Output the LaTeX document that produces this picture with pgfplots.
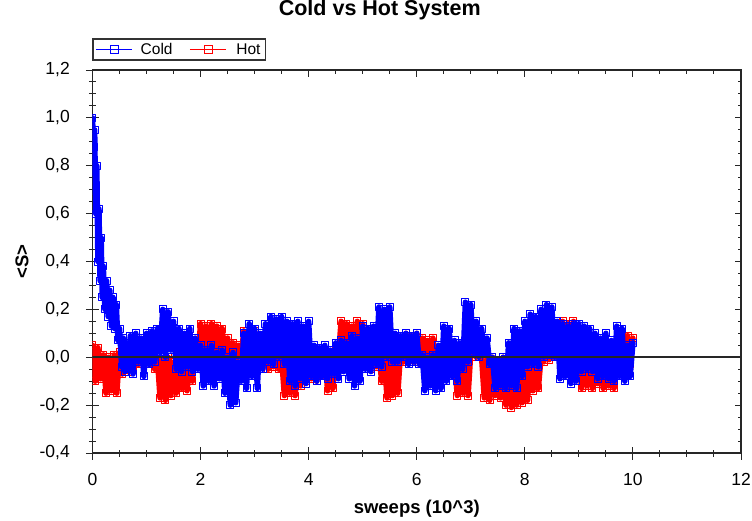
\documentclass[border=0pt]{standalone}
\usepackage{pgfplots}
\usepackage{pgfplotstable}
\pgfplotsset{compat=1.18}
\usepackage{fontspec}
\setmainfont{Liberation Sans}

\pgfplotstableread{
x y
0.00 1.00
0.02 0.88
0.04 0.95
0.06 0.60
0.08 0.80
0.10 0.40
0.12 0.62
0.14 0.32
0.16 0.50
0.18 0.25
0.20 0.38
0.23 0.20
0.26 0.32
0.29 0.17
0.32 0.28
0.35 0.13
0.38 0.25
0.41 0.12
0.44 0.22
0.47 0.07
0.50 0.12
0.54 -0.04
0.57 0.08
0.60 -0.06
0.63 0.06
0.66 -0.05
0.70 0.09
0.75 -0.07
0.80 0.10
0.85 -0.02
0.90 0.08
0.95 -0.08
1.00 0.10
1.05 -0.03
1.10 0.11
1.15 -0.02
1.20 0.12
1.25 0.02
1.30 0.20
1.35 0.00
1.40 0.19
1.45 0.03
1.50 0.15
1.55 -0.05
1.60 0.12
1.65 -0.06
1.70 0.10
1.75 -0.04
1.80 0.12
1.85 -0.06
1.90 0.08
1.95 -0.05
2.00 0.05
2.05 -0.12
2.10 0.03
2.15 -0.10
2.20 0.05
2.25 -0.12
2.30 0.02
2.35 -0.09
2.40 0.03
2.45 -0.15
2.50 0.00
2.55 -0.20
2.60 0.02
2.65 -0.19
2.70 -0.02
2.75 -0.10
2.80 0.10
2.85 -0.13
2.90 0.14
2.95 -0.08
3.00 0.12
3.05 -0.13
3.10 0.10
3.15 -0.05
3.20 0.14
3.25 -0.02
3.30 0.17
3.35 -0.03
3.40 0.16
3.45 0.00
3.50 0.17
3.55 -0.03
3.60 0.15
3.65 -0.10
3.70 0.14
3.75 -0.12
3.80 0.15
3.85 -0.09
3.90 0.13
3.95 -0.11
4.00 0.15
4.05 -0.08
4.10 0.05
4.15 -0.10
4.20 0.04
4.25 -0.08
4.30 0.05
4.35 -0.09
4.40 0.03
4.45 -0.07
4.50 0.06
4.55 -0.09
4.60 0.07
4.65 -0.06
4.70 0.06
4.75 -0.09
4.80 0.09
4.85 -0.12
4.90 0.08
4.95 -0.10
5.00 0.13
5.05 -0.05
5.10 0.12
5.15 -0.06
5.20 0.13
5.25 -0.03
5.30 0.21
5.35 -0.04
5.40 0.20
5.45 0.00
5.50 0.21
5.55 -0.02
5.60 0.10
5.65 -0.02
5.70 0.09
5.75 0.00
5.80 0.10
5.85 -0.03
5.90 0.09
5.95 -0.02
6.00 0.10
6.05 -0.03
6.10 0.01
6.15 -0.14
6.20 0.00
6.25 -0.12
6.30 0.01
6.35 -0.14
6.40 0.05
6.45 -0.13
6.50 0.13
6.55 -0.10
6.60 0.12
6.65 -0.08
6.70 0.07
6.75 -0.10
6.80 0.06
6.85 -0.05
6.90 0.23
6.95 -0.02
7.00 0.22
7.05 0.02
7.10 0.15
7.15 0.00
7.20 0.12
7.25 0.02
7.30 0.08
7.35 -0.03
7.40 0.00
7.45 -0.13
7.50 -0.01
7.55 -0.12
7.60 0.00
7.65 -0.13
7.70 0.06
7.75 -0.12
7.80 0.12
7.85 -0.13
7.90 0.11
7.95 -0.08
8.00 0.15
8.05 -0.04
8.10 0.18
8.15 -0.03
8.20 0.17
8.25 -0.04
8.30 0.20
8.35 0.00
8.40 0.22
8.45 0.01
8.50 0.21
8.55 0.00
8.60 0.15
8.65 -0.09
8.70 0.14
8.75 -0.08
8.80 0.13
8.85 -0.11
8.90 0.14
8.95 -0.10
9.00 0.14
9.05 -0.06
9.10 0.13
9.15 -0.05
9.20 0.12
9.25 -0.06
9.30 0.10
9.35 -0.09
9.40 0.08
9.45 -0.08
9.50 0.10
9.55 -0.09
9.60 0.07
9.65 -0.10
9.70 0.13
9.75 -0.08
9.80 0.12
9.85 -0.10
9.90 0.05
9.95 -0.08
10.00 0.06
}\colddata

\pgfplotstableread{
x y
0.00 0.05
0.05 -0.10
0.10 0.04
0.15 -0.09
0.20 0.01
0.25 -0.15
0.30 0.00
0.35 -0.14
0.40 0.01
0.45 -0.15
0.50 0.02
0.55 -0.07
0.60 0.03
0.65 -0.06
0.70 0.02
0.75 -0.05
0.80 0.07
0.85 -0.03
0.90 0.06
0.95 -0.02
1.00 0.07
1.05 -0.03
1.10 0.05
1.15 -0.05
1.20 0.00
1.25 -0.17
1.30 -0.01
1.35 -0.18
1.40 0.00
1.45 -0.16
1.50 -0.02
1.55 -0.15
1.60 0.00
1.65 -0.13
1.70 -0.01
1.75 -0.14
1.80 0.00
1.85 -0.10
1.90 0.05
1.95 0.00
2.00 0.14
2.05 0.01
2.10 0.13
2.15 0.00
2.20 0.14
2.25 0.02
2.30 0.13
2.35 0.00
2.40 0.12
2.45 -0.01
2.50 0.08
2.55 -0.04
2.60 0.06
2.65 -0.03
2.70 0.05
2.75 0.00
2.80 0.11
2.85 0.01
2.90 0.10
2.95 0.00
3.00 0.11
3.05 0.01
3.10 0.09
3.15 0.00
3.20 0.05
3.25 -0.05
3.30 0.04
3.35 -0.04
3.40 0.05
3.45 -0.05
3.50 0.00
3.55 -0.16
3.60 -0.01
3.65 -0.15
3.70 0.00
3.75 -0.16
3.80 -0.02
3.85 -0.12
3.90 0.00
3.95 -0.10
4.00 -0.01
4.05 -0.09
4.10 0.00
4.15 -0.10
4.20 -0.02
4.25 -0.08
4.30 0.02
4.35 -0.14
4.40 0.00
4.45 -0.13
4.50 0.03
4.55 0.00
4.60 0.15
4.65 0.00
4.70 0.14
4.75 0.02
4.80 0.13
4.85 0.00
4.90 0.15
4.95 0.01
5.00 0.14
5.05 0.00
5.10 0.05
5.15 -0.05
5.20 0.04
5.25 -0.04
5.30 0.02
5.35 -0.10
5.40 0.00
5.45 -0.17
5.50 -0.01
5.55 -0.16
5.60 0.00
5.65 -0.15
5.70 0.02
5.75 -0.02
5.80 0.10
5.85 -0.01
5.90 0.09
5.95 -0.02
6.00 0.10
6.05 -0.03
6.10 0.08
6.15 -0.04
6.20 0.07
6.25 -0.03
6.30 0.08
6.35 -0.04
6.40 0.02
6.45 -0.06
6.50 0.01
6.55 -0.05
6.60 0.02
6.65 -0.06
6.70 -0.02
6.75 -0.16
6.80 -0.03
6.85 -0.15
6.90 -0.02
6.95 -0.16
7.00 0.02
7.05 0.12
7.10 0.00
7.15 0.11
7.20 0.00
7.25 -0.17
7.30 -0.01
7.35 -0.18
7.40 0.00
7.45 -0.16
7.50 -0.02
7.55 -0.17
7.60 0.00
7.65 -0.20
7.70 -0.01
7.75 -0.21
7.80 0.00
7.85 -0.20
7.90 -0.02
7.95 -0.19
8.00 0.00
8.05 -0.18
8.10 0.00
8.15 -0.14
8.20 -0.01
8.25 -0.13
8.30 0.00
8.35 -0.02
8.40 0.07
8.45 -0.01
8.50 0.06
8.55 0.00
8.60 0.10
8.65 0.00
8.70 0.15
8.75 0.01
8.80 0.14
8.85 0.00
8.90 0.15
8.95 0.02
9.00 0.00
9.05 -0.13
9.10 -0.01
9.15 -0.12
9.20 0.00
9.25 -0.13
9.30 -0.02
9.35 -0.11
9.40 0.00
9.45 -0.13
9.50 -0.01
9.55 -0.12
9.60 0.00
9.65 -0.13
9.70 0.02
9.75 -0.05
9.80 0.10
9.85 -0.04
9.90 0.09
9.95 -0.03
10.00 0.08
}\hotdata

\begin{document}
\begin{tikzpicture}
\path[use as bounding box] (-92.5pt,-67pt) rectangle (659.5pt,453pt);
\begin{axis}[
  at={(0pt,0pt)}, anchor=south west,
  scale only axis, width=648.5pt, height=383pt,
  xmin=0, xmax=12, ymin=-0.4, ymax=1.2,
  clip marker paths=true,
  xtick={0,2,4,6,8,10,12},
  ytick={-0.4,-0.2,0,0.2,0.4,0.6,0.8,1.0,1.2},
  minor x tick num=3, minor y tick num=3,
  tick align=inside, major tick length=6.5pt, minor tick length=3.5pt,
  every tick/.style={black!85, line width=1pt},
  axis line style={black!85, line width=1.2pt},
  /pgf/number format/assume math mode=true,
  tick label style={font=\fontsize{17.5}{20}\selectfont},
  xticklabel style={anchor=north, inner sep=0pt, yshift=-20pt},
  yticklabel style={anchor=east, inner sep=0pt, xshift=-22.5pt,
    /pgf/number format/fixed, /pgf/number format/fixed zerofill,
    /pgf/number format/precision=1, /pgf/number format/use comma},
  title={Cold vs Hot System},
  title style={at={([yshift=48pt]axis description cs:0.443,1)}, anchor=base,
    font=\fontsize{21.5}{24}\selectfont\bfseries},
  xlabel={sweeps (10\textasciicircum 3)},
  xlabel style={at={([yshift=-60pt]axis description cs:0.5,0)}, anchor=base,
    font=\fontsize{18.5}{20}\selectfont\bfseries},
  ylabel={<S>},
  ylabel style={at={([xshift=-70.5pt]axis description cs:0,0.5)}, anchor=center,
    font=\fontsize{18.5}{20}\selectfont\bfseries},
  legend columns=2,
  legend image code/.code={\draw[mark repeat=2,mark phase=2,#1] plot coordinates {(0pt,0pt)(18pt,0pt)(36pt,0pt)};},
  legend style={at={([xshift=-0.5pt,yshift=9pt]axis description cs:0,1)}, anchor=south west,
    draw=black!80, line width=1.8pt, inner xsep=3pt, inner ysep=2pt,
    font=\fontsize{15.5}{17}\selectfont,
    /tikz/every even column/.append style={column sep=15pt}},
]
\addlegendimage{blue, mark=square, mark size=4pt, line width=0.8pt}
\addlegendentry{\hspace{6pt}Cold}
\addlegendimage{red, mark=square, mark size=4pt, line width=0.8pt}
\addlegendentry{\hspace{8pt}Hot\hspace{26pt}}
\addplot[red, line width=5.5pt, line join=round, line cap=round, mark=square, mark size=3.5pt, mark options={red, line width=1pt}, forget plot] table[x=x,y=y] {\hotdata};
\addplot[blue, line width=5.5pt, line join=round, line cap=round, mark=square, mark size=3.5pt, mark options={blue, line width=1pt}, forget plot] table[x=x,y=y] {\colddata};
\end{axis}
\begin{axis}[
  at={(0pt,0pt)}, anchor=south west,
  scale only axis, width=648.5pt, height=383pt,
  xmin=0, xmax=12, ymin=-0.4, ymax=1.2,
  xtick={0,2,4,6,8,10,12},
  ytick={-0.4,-0.2,0,0.2,0.4,0.6,0.8,1.0,1.2},
  minor x tick num=3, minor y tick num=3,
  tick align=outside, xtick pos=left, ytick pos=left,
  xticklabels={}, yticklabels={},
  major tick length=6.5pt, minor tick length=3.5pt,
  every tick/.style={black!85, line width=1pt},
  axis line style={draw=none},
]
\addplot[black!85, line width=1.6pt] coordinates {(0,0) (12,0)};
\end{axis}
\end{tikzpicture}
\end{document}
